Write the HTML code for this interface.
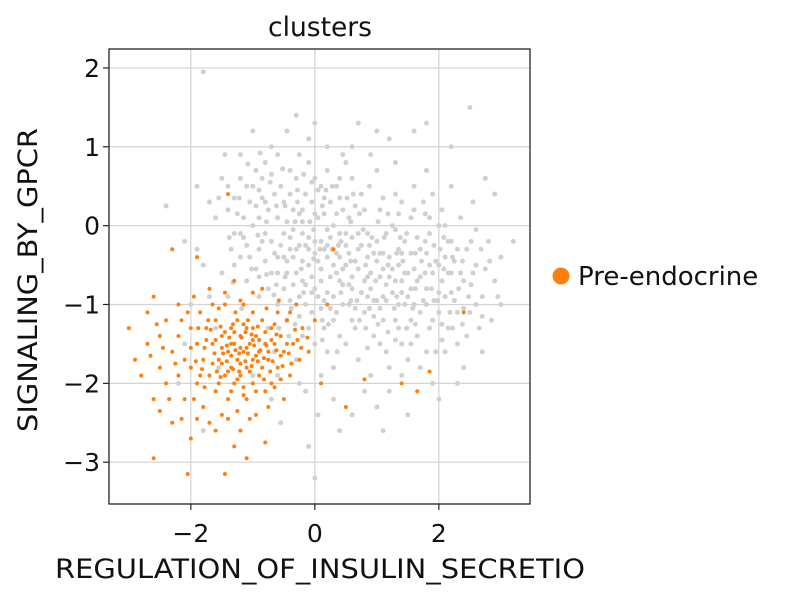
<!DOCTYPE html>
<html><head><meta charset="utf-8"><style>
html,body{margin:0;padding:0;background:#fff;}
svg{display:block;font-family:"DejaVu Sans","Liberation Sans",sans-serif;}
</style></head><body>
<svg id="chart" width="790" height="599" viewBox="0 0 790 599">
<g id="grid"></g>
<g id="pts"></g>
<rect x="109" y="49" width="421" height="455" fill="none" stroke="#222" stroke-width="1.3"/>
<g id="ticks"></g>
<text x="320" y="36" font-size="26.5" text-anchor="middle" fill="#111">clusters</text>
<text x="320" y="578" font-size="26.5" text-anchor="middle" fill="#111" textLength="530" lengthAdjust="spacingAndGlyphs">REGULATION_OF_INSULIN_SECRETIO</text>
<text transform="translate(37,280) rotate(-90)" font-size="26.5" text-anchor="middle" fill="#111" textLength="304" lengthAdjust="spacingAndGlyphs">SIGNALING_BY_GPCR</text>
<g>
<circle cx="561" cy="276" r="8.5" fill="#ff7f0e"/>
<text x="578" y="285" font-size="26" fill="#111">Pre-endocrine</text>
</g>
</svg>
<script>
const xTicks=[-2,0,2];
const yTicks=[2,1,0,-1,-2,-3];
const grayPoints=[[-2.4,0.25],[-2.1,-0.2],[-1.9,0.5],[-1.8,-0.5],[-1.7,-0.9],[-1.6,0.1],[-1.6,-1.3],[-2.0,-1.0],[-1.9,-0.3],[-1.7,0.3],[-1.5,-0.6],[-1.5,0.6],[-1.55,-1.8],[-2.2,-2.0],[-1.8,-2.6],[-2.1,-1.5],[-1.45,0.9],
[-1.4,0.2],[-1.3,-0.1],[-1.2,-0.4],[-1.1,0.5],[-1.0,0.0],[-0.9,-0.3],[-0.8,0.3],[-0.7,-0.6],[-0.6,0.1],[-1.2,0.9],[-1.0,1.2],[-0.8,0.8],[-0.7,-0.2],[-0.9,-0.9],[-1.1,-0.7],[-1.3,-0.5],[-0.6,-1.0],[-0.5,-0.4],[-0.55,0.5],[-1.4,-0.9],[-0.75,-1.3],[-0.65,-1.6],[-0.85,0.6],[-1.05,0.3],[-1.25,0.15],[-0.95,-0.55],[-0.6,0.9],[-0.7,1.0],[-1.15,-0.15],[-0.5,-0.8],[-0.8,-0.1],[-0.9,0.45],[-0.65,-0.35],[-1.35,-0.3],[-1.0,-1.9],[-0.7,-2.2],[-0.55,-2.5],[-0.6,-1.9],[-1.2,0.6],[-0.45,1.2],[-0.9,0.1],[-1.1,-0.25],[-0.75,0.2],
[-0.4,-0.3],[-0.3,-0.6],[-0.2,-0.1],[-0.1,-0.5],[0.0,-0.2],[0.1,-0.7],[0.2,-0.4],[0.3,-0.9],[0.4,-0.1],[-0.35,0.2],[-0.25,-0.9],[-0.15,0.4],[-0.05,-1.1],[0.05,0.1],[0.15,-1.3],[0.25,0.3],[0.35,-0.6],[0.45,-1.0],[-0.45,-1.2],[-0.3,0.6],[-0.2,-1.4],[-0.1,0.8],[0.0,-0.8],[0.1,0.5],[0.2,-1.6],[0.3,0.0],[0.4,-1.4],[-0.4,0.7],[-0.3,-1.7],[-0.2,0.2],[-0.1,-0.3],[0.0,-1.5],[0.1,-0.2],[0.2,0.7],[0.3,-1.2],[0.4,-0.4],[-0.45,-0.6],[-0.35,-0.05],[-0.25,0.9],[-0.15,-0.75],[-0.05,0.3],[0.05,-0.45],[0.15,-0.95],[0.25,-0.15],[0.35,0.5],[0.45,-0.75],[-0.1,1.1],[0.2,1.0],[-0.3,1.4],[0.0,1.3],[0.1,-1.9],[-0.15,-2.1],[0.05,-2.4],[-0.25,-2.0],[0.3,-2.2],[0.0,-3.2],[-0.1,-2.8],[0.3,-1.8],[0.4,-2.6],[-0.4,-0.95],[0.0,0.6],[0.15,0.15],[-0.2,-0.45],[0.25,-0.65],[-0.05,-0.65],[0.35,-0.35],[0.1,-1.05],[-0.35,-0.4],[0.45,0.2],[-1.8,1.95],[0.45,0.9],
[0.5,-0.5],[0.6,-0.8],[0.7,-0.3],[0.8,-1.1],[0.9,-0.6],[1.0,-0.2],[1.1,-0.9],[1.2,-0.4],[1.3,-1.2],[1.4,-0.7],[0.55,0.1],[0.65,-1.3],[0.75,0.4],[0.85,-0.1],[0.95,-1.4],[1.05,0.2],[1.15,-1.6],[1.25,0.0],[1.35,-0.3],[1.45,-1.0],[0.5,-1.5],[0.6,0.6],[0.7,-1.7],[0.8,0.2],[0.9,-1.9],[1.0,0.7],[1.1,-0.55],[1.2,-1.8],[1.3,0.4],[1.4,-1.5],[0.55,-1.0],[0.65,-0.45],[0.75,-0.85],[0.85,-0.4],[0.95,-0.95],[1.05,-0.65],[1.15,-0.1],[1.25,-0.85],[1.35,-0.5],[1.45,-0.2],[0.6,1.0],[0.9,0.9],[1.0,1.2],[1.2,1.1],[1.3,0.8],[0.7,1.3],[0.5,0.8],[1.4,0.3],[0.8,-2.1],[1.0,-2.3],[1.2,-2.1],[1.4,-1.9],[0.6,-2.4],[1.1,-2.6],[0.95,-0.35],[1.1,-1.2],[0.7,-0.1],[1.3,-0.05],[0.85,-1.55],
[1.5,-0.6],[1.6,-1.0],[1.7,-0.3],[1.8,-0.8],[1.9,-1.2],[2.0,-0.5],[2.1,-0.9],[2.2,-0.2],[2.3,-1.1],[2.4,-0.7],[1.55,0.1],[1.65,-1.4],[1.75,0.3],[1.85,-0.1],[1.95,-1.6],[2.05,0.2],[2.15,-1.3],[2.25,-0.45],[2.35,0.1],[2.45,-1.4],[1.5,-1.7],[1.6,0.5],[1.7,-1.8],[1.8,0.7],[1.9,-2.0],[2.0,0.0],[2.1,-1.6],[2.2,0.5],[2.3,-0.3],[2.4,-1.8],[1.55,-0.35],[1.7,-0.65],[1.85,-0.5],[2.0,-0.85],[2.15,-0.6],[1.6,1.2],[2.2,1.0],[1.8,1.3],[2.5,-1.1],[2.0,-2.2],[1.5,-2.4],[2.3,-2.0],[1.9,0.4],
[2.6,-0.5],[2.7,-0.9],[2.8,-0.2],[2.9,-0.7],[3.0,-1.0],[3.2,-0.2],[2.55,0.3],[2.65,-1.3],[2.75,0.6],[2.9,0.4],[2.5,1.5],[2.7,-1.6],[3.0,-0.4],[2.6,-0.05],[2.85,-1.2],
[-0.5,-0.1],[-0.3,-0.3],[-0.1,-0.15],[0.1,-0.55],[0.3,-0.5],[0.5,-0.25],[0.7,-0.55],[0.9,-0.8],[1.1,-0.35],[1.3,-0.7],[1.5,-0.9],[1.7,-1.1],[1.9,-0.6],[2.1,-0.4],[-0.4,0.4],[-0.2,0.05],[0.0,-0.35],[0.2,-0.85],[0.4,-0.7],[0.6,-0.15],[0.8,-0.7],[1.0,-0.95],[1.2,-0.65],[1.4,-0.35],[1.6,-0.55],[1.8,-0.35],[2.0,-1.1],[2.2,-0.85],[-0.6,-0.6],[-0.2,-0.7],[0.2,-0.05],[0.6,-0.65],[1.0,-0.45],[1.4,-0.85],[1.8,-1.0],[-0.8,-0.45],[-0.45,0.05],[0.05,-0.9],[0.55,-0.35],[1.05,-1.05],[1.55,-1.2],[2.05,-0.7],[0.15,0.35],[0.65,0.25],[1.15,-0.75],[1.65,-0.15],[-0.15,-1.0],[0.35,-1.1],[0.85,-0.9],[1.35,-1.0],
[-0.95,0.25],[-0.85,-0.2],[-0.75,-0.8],[-0.65,0.4],[-0.55,-0.25],[-0.45,-0.45],[-0.35,-0.75],[-0.25,0.15],[-0.15,-0.25],[-0.05,-0.85],[0.05,0.45],[0.15,-0.3],[0.25,-1.05],[0.35,0.15],[0.45,-0.55],[0.55,-0.75],[0.65,-1.05],[0.75,-0.25],[0.85,-0.65],[0.95,-1.15],[1.05,-0.35],[1.15,-0.95],[1.25,-0.55],[1.35,-1.3],[1.45,-0.6],[1.55,-0.8],[1.65,-0.7],[1.75,-0.95],[1.85,-1.3],[1.95,-0.45],[2.05,-1.25],[2.15,-0.2],[2.25,-0.95],[2.35,-0.6],[2.45,-0.3],
[-1.05,-0.4],[-0.9,-0.65],[-0.78,0.05],[-0.62,-0.75],[-0.48,0.25],[-0.38,-1.05],[-0.22,-0.55],[-0.08,0.05],[0.08,-0.3],[0.22,-1.25],[0.38,-0.25],[0.52,0.35],[0.68,-0.95],[0.82,-0.5],[0.98,-0.7],[1.12,-0.15],[1.28,-1.05],[1.42,-0.45],[1.58,-1.05],[1.72,-0.45],[1.88,-0.8],[2.02,-0.3],[2.18,-1.1],[2.32,-0.8],[2.48,-0.9],
[-1.2,-0.1],[-0.95,0.7],[-0.72,0.55],[-0.5,0.3],[-0.28,0.45],[-0.05,0.55],[0.18,0.45],[0.4,0.6],[0.62,0.4],[0.88,0.5],[1.1,0.35],[1.35,0.15],[1.6,0.2],[1.85,0.1],[2.1,0.0],[-0.58,-1.3],[-0.32,-1.25],[-0.1,-1.3],[0.12,-1.45],[0.36,-1.6],[0.6,-1.2],[0.82,-1.3],[1.05,-1.5],[1.3,-1.45],[1.55,-1.5],[1.8,-1.6],[2.05,-1.45],[2.3,-1.5],[2.6,-1.0],[2.75,-0.55],
[-1.4,0.5],[-1.3,0.35],[-1.15,0.1],[-1.0,0.5],[-0.85,0.35],[-0.7,0.65],[-0.6,-0.4],[-0.4,-0.15],[-0.25,-0.25],[0.0,0.15],[0.2,-0.25],[0.4,0.35],[0.58,-0.45],[0.78,-0.05],[0.92,-0.15],[1.18,-0.5],[1.38,-0.15],[1.62,-0.35],[1.78,-0.6],[1.98,-0.95],[2.2,-0.6],[2.4,-1.05],[2.55,-0.6],[2.68,-0.3],
[-1.32,-0.72],[-1.18,-1.05],[-1.02,-0.55],[-0.88,0.92],[-0.66,-0.88],[-0.52,0.72],[-0.42,-1.4],[-0.28,0.3],[-0.18,-0.85],[-0.02,-0.05],[0.12,0.25],[0.28,-0.3],[0.42,-0.85],[0.58,0.05],[0.72,-1.2],[0.88,-0.25],[1.02,-1.25],[1.18,0.15],[1.32,-0.9],[1.48,-0.1],[1.62,-1.25],[1.78,0.15],[1.92,-0.25],[2.08,-0.55],[2.22,-1.3],[2.38,-0.45],[2.52,-0.75],[2.7,-1.15],[2.82,-0.45],[2.95,-0.9],
[-1.55,0.35],[-1.38,-0.15],[-1.22,0.35],[-1.08,0.78],[-0.92,-0.12],[-0.78,-0.62],[-0.62,0.25],[-0.48,-0.65],[-0.32,0.05],[-0.18,0.65],[-0.02,-0.42],[0.12,-1.2],[0.28,0.5],[0.42,-0.2],[0.58,-0.95],[0.72,0.15],[0.88,-1.05],[1.02,0.05],[1.18,-1.35],[1.32,-0.35],[1.48,-1.3],[1.62,-0.8],[1.78,-0.2],[1.92,-0.95],[2.08,-0.15],[2.22,-0.4],[2.38,-1.25],[2.52,-0.2],[-0.25,-1.15],[0.5,-0.1]];
const orangePoints=[[-3.0,-1.3],[-2.9,-1.7],[-2.8,-1.9],[-2.7,-1.1],[-2.7,-1.5],[-2.6,-2.2],[-2.6,-0.9],[-2.5,-1.4],[-2.5,-1.8],[-2.4,-2.0],[-2.4,-1.2],[-2.3,-1.6],[-2.3,-2.5],[-2.2,-1.0],[-2.2,-1.4],[-2.2,-1.9],[-2.1,-1.7],[-2.1,-2.2],[-2.0,-1.3],[-2.0,-1.8],[-2.0,-2.7],[-1.95,-0.9],[-1.9,-1.5],[-1.9,-2.0],[-1.85,-1.1],[-1.8,-1.7],[-1.8,-2.3],[-1.75,-1.3],[-1.7,-1.9],[-1.7,-0.8],[-1.65,-1.5],[-1.6,-2.1],[-1.6,-1.2],[-1.55,-1.7],[-1.5,-1.4],[-1.5,-2.4],[-1.45,-1.0],[-1.45,-1.9],[-1.4,-1.6],[-1.4,-2.2],[-1.35,-1.3],[-1.35,-1.8],[-1.3,-1.5],[-1.3,-2.0],[-1.3,-0.7],[-1.25,-1.7],[-1.25,-1.2],[-1.2,-1.9],[-1.2,-1.4],[-1.2,-2.6],[-1.15,-1.6],[-1.15,-1.0],[-1.1,-1.8],[-1.1,-2.2],[-1.1,-1.3],[-1.05,-1.5],[-1.0,-1.7],[-1.0,-2.0],[-1.0,-1.1],[-0.95,-1.4],[-0.95,-2.4],[-0.9,-1.6],[-0.9,-1.9],[-0.85,-1.2],[-0.85,-0.8],[-0.8,-1.5],[-0.8,-2.1],[-0.75,-1.7],[-0.7,-1.3],[-0.7,-2.0],[-0.65,-1.5],[-0.6,-1.8],[-0.6,-1.1],[-0.55,-1.4],[-0.5,-1.6],[-0.5,-2.2],[-0.45,-1.2],[-0.4,-1.9],[-0.35,-1.5],[-0.3,-1.0],[-0.25,-1.7],[-0.2,-1.3],[-0.1,-1.6],[0.0,-1.2],[0.1,-2.0],[0.3,-0.3],[0.2,-1.0],[0.5,-2.3],[0.8,-1.95],[1.4,-2.0],[1.65,-2.1],[1.85,-1.85],[2.4,-1.1],[-1.4,0.4],[-2.3,-0.3],[-1.9,-0.4],[-1.3,-2.8],[-1.45,-3.15],[-2.05,-3.15],[-2.6,-2.95],[-1.1,-2.95],[-0.8,-2.75],[-1.6,-2.6],[-1.75,-1.45],[-1.55,-1.05],[-1.65,-1.75],[-1.0,-1.3],[-1.2,-1.55],[-1.35,-1.65],[-1.05,-1.85],[-0.9,-1.45],[-1.15,-1.25],[-1.25,-1.95],[-0.75,-1.6],[-1.5,-1.55],[-1.4,-1.85],[-0.95,-1.65],[-1.3,-1.35],[-0.65,-1.25],[-1.1,-1.55],[-0.85,-1.8],[-1.45,-1.35],[-0.55,-1.65],[-1.6,-1.45],[-1.0,-1.45],[-1.2,-1.75],[-0.7,-1.45],[-1.35,-1.5],[-0.8,-1.35],[-1.15,-2.05],[-1.5,-1.75],[-0.45,-1.5],[-0.4,-1.1],[-2.0,-1.55],[-1.85,-1.9],[-2.15,-1.2],[-1.7,-2.5],[-2.5,-2.35],[-1.9,-2.45],
[-1.28,-1.58],[-1.08,-1.62],[-0.88,-1.58],[-1.18,-1.42],[-0.98,-1.52],[-0.78,-1.52],[-1.38,-1.42],[-1.48,-1.62],[-1.58,-1.85],[-0.68,-1.72],[-1.22,-1.85],[-1.02,-1.78],[-0.82,-1.68],[-1.42,-1.72],[-0.62,-1.38],[-1.12,-1.35],[-0.92,-1.28],[-1.32,-1.25],[-1.52,-1.28],[-0.72,-1.85],[-1.62,-1.62],[-1.78,-1.55],[-1.92,-1.72],[-0.52,-1.78],[-0.42,-1.62],[-0.32,-1.32],[-0.22,-1.55],[-0.12,-1.42],[-1.72,-1.2],[-1.88,-1.3],[-1.55,-2.0],[-1.35,-2.1],[-1.15,-2.15],[-0.95,-2.1],[-0.75,-2.3],[-1.25,-2.35],[-1.05,-2.45],[-1.4,-2.45],[-0.65,-2.05],[-0.55,-1.95],
[-1.65,-1.0],[-1.45,-0.85],[-1.2,-0.95],[-1.0,-0.85],[-0.78,-1.05],[-0.58,-0.95],[-2.05,-1.1],[-2.25,-1.75],[-2.45,-1.55],[-2.65,-1.65],[-2.35,-2.2],[-2.15,-2.45],[-1.95,-2.2],[-1.78,-2.05],[-2.55,-1.25],
[-1.42,-1.52],[-1.22,-1.62],[-1.02,-1.38],[-0.82,-1.95],[-1.32,-1.82],[-1.12,-1.72],[-0.92,-1.72],[-1.52,-1.92],[-0.62,-1.58],[-1.68,-1.32],[-1.82,-1.82],[-0.38,-1.75],[-0.28,-1.45],[-1.08,-1.2],[-1.28,-1.1]];
const NS='http://www.w3.org/2000/svg';
const X0=109,X1=530,Y0=49,Y1=504;
const xMin=-3.32,xMax=3.47,yMin=-3.53,yMax=2.24;
function sx(v){return X0+(v-xMin)/(xMax-xMin)*(X1-X0);}
function sy(v){return Y1-(v-yMin)/(yMax-yMin)*(Y1-Y0);}
function mk(tag,attrs,parent){const e=document.createElementNS(NS,tag);for(const k in attrs)e.setAttribute(k,attrs[k]);parent.appendChild(e);return e;}
const grid=document.getElementById('grid'),ticks=document.getElementById('ticks'),pts=document.getElementById('pts');
function fmt(v){return v<0?'\u2212'+Math.abs(v):String(v);}
xTicks.forEach(v=>{const x=sx(v);
 const g=mk('line',{x1:x,x2:x,y1:Y0,y2:Y1,stroke:'#d3d3d3','stroke-width':1.2},grid);
 
 
 const t=mk('line',{x1:x,x2:x,y1:Y1,y2:Y1+6,stroke:'#222','stroke-width':1.2},ticks);
 
 
 const l=mk('text',{x:x,y:542,'font-size':25,'text-anchor':'middle',fill:'#111'},ticks);
 l.textContent=fmt(v);
 
 
});
yTicks.forEach(v=>{const y=sy(v);
 const g=mk('line',{x1:X0,x2:X1,y1:y,y2:y,stroke:'#d3d3d3','stroke-width':1.2},grid);
 
 
 const t=mk('line',{x1:X0-6,x2:X0,y1:y,y2:y,stroke:'#222','stroke-width':1.2},ticks);
 
 
 const l=mk('text',{x:X0-9,y:y+9,'font-size':25,'text-anchor':'end',fill:'#111'},ticks);
 l.textContent=fmt(v);
 
 
});
grayPoints.forEach(p=>{const c=mk('circle',{cx:sx(p[0]),cy:sy(p[1]),r:2.5,fill:'#d0d0d0'},pts);
 
 });
orangePoints.forEach(p=>{const c=mk('circle',{cx:sx(p[0]),cy:sy(p[1]),r:2.0,fill:'#ff7f0e'},pts);
 
 });
</script>
</body></html>
